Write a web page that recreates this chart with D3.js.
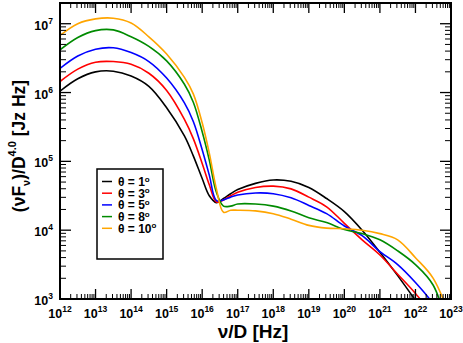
<!DOCTYPE html>
<html>
<head>
<meta charset="utf-8">
<script src="https://cdn.jsdelivr.net/npm/d3@7"></script>
<style>
  body { margin: 0; background: #fff; }
  text { font-family: "Liberation Sans", Arial, sans-serif; font-weight: bold; }
</style>
</head>
<body>
<svg id="chart"></svg>
<script>
const width = 463, height = 343;
const margin = { left: 60, right: 12, top: 3, bottom: 44 };

// frequency grid, log10(nu/D) [Hz]
const logNu = [12, 12.5, 13, 13.5, 14, 14.5, 15, 15.5, 15.75, 16, 16.2, 16.4, 16.6, 16.8,
               17, 17.5, 18, 18.5, 19, 19.5, 20, 20.5, 21, 21.5, 22, 22.5, 23];

// log10 of (nu F_nu)/D^4.0 for each viewing angle
const theta1  = [6.02, 6.20, 6.30, 6.31, 6.24, 6.09, 5.78, 5.37, 5.08, 4.75, 4.50, 4.40, 4.46, 4.53,
                 4.59, 4.68, 4.73, 4.71, 4.62, 4.46, 4.27, 4.00, 3.68, 3.34, 2.98, 2.60, 2.20];
const theta3  = [6.16, 6.34, 6.44, 6.45, 6.41, 6.28, 6.03, 5.61, 5.33, 4.97, 4.66, 4.41, 4.44, 4.50,
                 4.55, 4.62, 4.64, 4.60, 4.48, 4.34, 4.10, 3.86, 3.64, 3.36, 3.08, 2.75, 2.30];
const theta5  = [6.35, 6.53, 6.63, 6.65, 6.58, 6.45, 6.21, 5.85, 5.58, 5.17, 4.80, 4.43, 4.44, 4.48,
                 4.51, 4.54, 4.53, 4.47, 4.36, 4.24, 4.06, 3.92, 3.69, 3.50, 3.24, 2.93, 2.50];
const theta8  = [6.62, 6.80, 6.90, 6.91, 6.81, 6.67, 6.46, 6.12, 5.86, 5.43, 5.02, 4.55, 4.35, 4.35,
                 4.38, 4.38, 4.35, 4.28, 4.18, 4.11, 4.01, 3.95, 3.86, 3.70, 3.50, 3.20, 2.40];
const theta10 = [6.83, 7.00, 7.07, 7.08, 7.01, 6.81, 6.56, 6.22, 5.98, 5.56, 5.12, 4.60, 4.26, 4.29,
                 4.29, 4.28, 4.24, 4.16, 4.07, 4.03, 4.02, 4.00, 3.95, 3.86, 3.60, 3.30, 2.70];

const angles = ["1", "3", "5", "8", "10"];
const seriesList = [theta1, theta3, theta5, theta8, theta10];
const colors = ["#000000", "#ff0000", "#0000ff", "#008b00", "#ffa500"];

const xExps = d3.range(12, 24);   // tick labels 10^12 .. 10^23
const yExps = d3.range(3, 8);     // tick labels 10^3 .. 10^7

const svg = d3.select("#chart")
    .attr("width", width)
    .attr("height", height);

const x = d3.scaleLog().domain([1e12, 1e23]).range([margin.left, width - margin.right]);
const y = d3.scaleLog().domain([1e3, 2e7]).range([height - margin.bottom, margin.top]);

const x0 = x.range()[0], x1 = x.range()[1];
const y0 = y.range()[0], y1 = y.range()[1];

svg.append("clipPath").attr("id", "plot")
  .append("rect")
    .attr("x", x0).attr("y", y1)
    .attr("width", x1 - x0).attr("height", y0 - y1);

// Curves
const line = d3.line()
    .x(d => x(Math.pow(10, d[0])))
    .y(d => y(Math.pow(10, d[1])))
    .curve(d3.curveCatmullRom.alpha(0.5));

seriesList.forEach((vals, i) => {
    svg.append("path")
        .datum(logNu.map((n, j) => [n, vals[j]]))
        .attr("clip-path", "url(#plot)")
        .attr("fill", "none")
        .attr("stroke", colors[i])
        .attr("stroke-width", 1.6)
        .attr("d", line);
});

// Ticks, pointing inward on all four sides
function minorValues(exps) {
    const out = [];
    exps.slice(0, -1).forEach(e => {
        for (let k = 2; k <= 9; k++) out.push(k * Math.pow(10, e));
    });
    return out;
}

const tickG = svg.append("g").attr("stroke", "#000");

const xMajor = xExps.map(e => Math.pow(10, e));
const xMinor = minorValues(xExps);
xMajor.forEach(v => {
    const px = x(v);
    tickG.append("line").attr("x1", px).attr("x2", px).attr("y1", y0).attr("y2", y0 - 10).attr("stroke-width", 1.3);
    tickG.append("line").attr("x1", px).attr("x2", px).attr("y1", y1).attr("y2", y1 + 10).attr("stroke-width", 1.3);
});
xMinor.forEach(v => {
    const px = x(v);
    tickG.append("line").attr("x1", px).attr("x2", px).attr("y1", y0).attr("y2", y0 - 5).attr("stroke-width", 1);
    tickG.append("line").attr("x1", px).attr("x2", px).attr("y1", y1).attr("y2", y1 + 5).attr("stroke-width", 1);
});

const yMajor = yExps.map(e => Math.pow(10, e));
const yMinor = minorValues(yExps.concat([8])).filter(v => v <= 2e7);
yMajor.forEach(v => {
    const py = y(v);
    tickG.append("line").attr("x1", x0).attr("x2", x0 + 11).attr("y1", py).attr("y2", py).attr("stroke-width", 1.3);
    tickG.append("line").attr("x1", x1).attr("x2", x1 - 11).attr("y1", py).attr("y2", py).attr("stroke-width", 1.3);
});
yMinor.forEach(v => {
    const py = y(v);
    tickG.append("line").attr("x1", x0).attr("x2", x0 + 6).attr("y1", py).attr("y2", py).attr("stroke-width", 1);
    tickG.append("line").attr("x1", x1).attr("x2", x1 - 6).attr("y1", py).attr("y2", py).attr("stroke-width", 1);
});

// Frame
svg.append("rect")
    .attr("x", x0).attr("y", y1)
    .attr("width", x1 - x0).attr("height", y0 - y1)
    .attr("fill", "none")
    .attr("stroke", "#000")
    .attr("stroke-width", 2);

// Tick labels
function powLabel(sel, exp) {
    sel.append("tspan").attr("font-size", 12.5).text("10");
    sel.append("tspan").attr("font-size", 8.5).attr("dy", -6).text(exp);
}

xExps.forEach(e => {
    svg.append("text")
        .attr("x", x(Math.pow(10, e)))
        .attr("y", y0 + 19)
        .attr("text-anchor", "middle")
        .call(powLabel, e);
});

yExps.forEach(e => {
    svg.append("text")
        .attr("x", x0 - 7)
        .attr("y", y(Math.pow(10, e)) + 6)
        .attr("text-anchor", "end")
        .call(powLabel, e);
});

// Axis titles
svg.append("text")
    .attr("x", 253)
    .attr("y", 338)
    .attr("text-anchor", "middle")
    .attr("font-size", 19)
    .text("\u03bd/D [Hz]");

const yTitle = svg.append("text")
    .attr("transform", "translate(25,146) rotate(-90)")
    .attr("text-anchor", "middle")
    .attr("font-size", 17.5);
yTitle.append("tspan").text("(\u03bdF");
yTitle.append("tspan").attr("font-size", 11).attr("dy", 5).text("\u03bd");
yTitle.append("tspan").attr("dy", -5).text(")/D");
yTitle.append("tspan").attr("font-size", 11).attr("dy", -9).text("4.0");
yTitle.append("tspan").attr("dy", 9).text(" [Jz Hz]");

// Legend
const legend = svg.append("g");
legend.append("rect")
    .attr("x", 97).attr("y", 169)
    .attr("width", 66).attr("height", 90)
    .attr("fill", "#fff")
    .attr("stroke", "#000")
    .attr("stroke-width", 1.5);

angles.forEach((a, i) => {
    const ly = 181.5 + i * 11.7;
    legend.append("line")
        .attr("x1", 102).attr("x2", 112)
        .attr("y1", ly).attr("y2", ly)
        .attr("stroke", colors[i])
        .attr("stroke-width", 1.5);
    const t = legend.append("text")
        .attr("x", 118)
        .attr("y", ly + 4.5)
        .attr("font-size", 12);
    t.append("tspan").text("\u03b8 = " + a);
    t.append("tspan").attr("font-size", 8).attr("dy", -4.5).text("o");
});
</script>
</body>
</html>
